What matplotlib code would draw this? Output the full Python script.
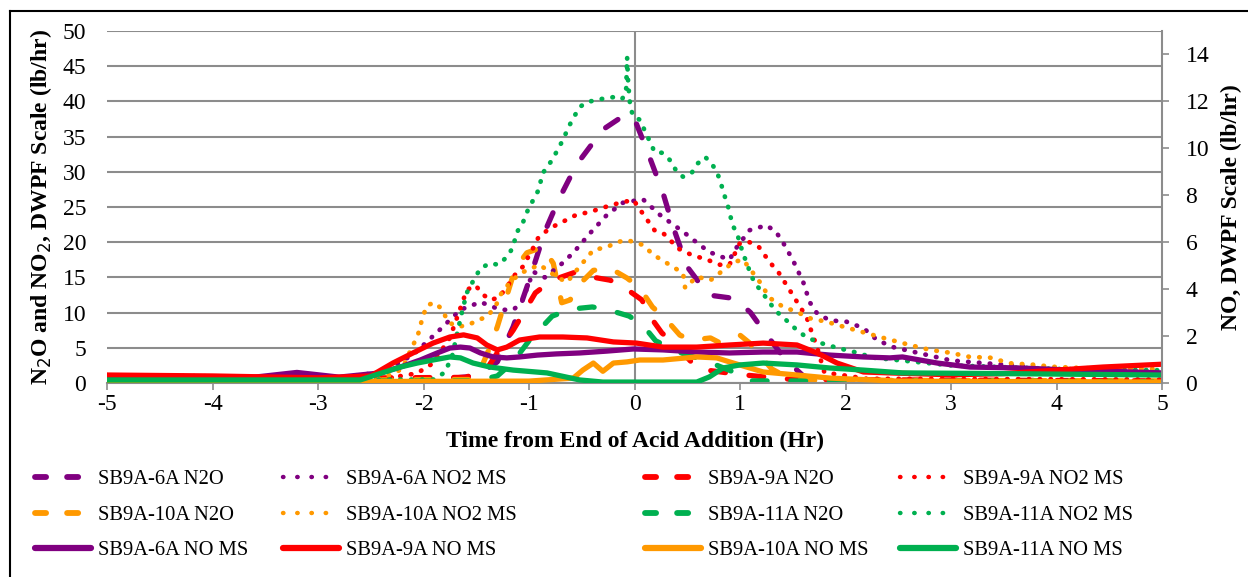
import matplotlib.pyplot as plt
from matplotlib.lines import Line2D

plt.rcParams['font.family'] = ['Liberation Serif', 'DejaVu Serif']
plt.rcParams['axes.unicode_minus'] = False

PURPLE = '#800080'
RED = '#FF0000'
ORANGE = '#FF9900'
GREEN = '#00B050'

# ---- N2O (left axis, lb/hr) ----
x_6a_n2o = [-5, -2, -1.5, -1.3, -1.15, -1.0, -0.85, -0.72, -0.55, -0.3, -0.1, 0.0, 0.12, 0.27,
            0.37, 0.5, 0.7, 0.95, 1.1, 1.22, 1.42, 1.6, 1.8, 5]
y_6a_n2o = [0.3, 0.3, 1.0, 3.0, 8.0, 14.5, 21.5, 26.0, 31.0, 36.0, 38.0, 37.5, 33.0, 27.0,
            22.0, 16.5, 12.5, 12.0, 10.0, 7.5, 3.5, 1.0, 0.3, 0.2]

x_9a_n2o = [-5, -1.6, -1.4, -1.3, -1.15, -1.05, -0.94, -0.78, -0.55, -0.42, -0.23, -0.09,
            0.07, 0.15, 0.26, 0.37, 0.6, 1.0, 1.5, 5]
y_9a_n2o = [0.5, 0.8, 2.0, 4.3, 7.5, 10.0, 12.8, 14.6, 15.8, 15.1, 14.6, 13.5,
            11.8, 9.4, 7.1, 5.7, 2.0, 1.2, 0.5, 0.3]

x_10a_n2o = [-5, -1.5, -1.37, -1.3, -1.13, -1.02, -0.87, -0.77, -0.69, -0.61, -0.53, -0.39,
             -0.23, -0.07, 0.05, 0.17, 0.29, 0.43, 0.54, 0.72, 0.81, 1.0, 1.09, 1.3, 1.5, 5]
y_10a_n2o = [0.3, 0.5, 5.1, 8.0, 16.3, 18.5, 19.3, 17.0, 11.4, 11.8, 13.9, 16.0,
             16.3, 14.9, 13.5, 10.8, 9.2, 6.8, 6.1, 6.4, 5.7, 6.8, 5.7, 2.0, 0.4, 0.3]

x_11a_n2o = [-5, -1.5, -1.3, -1.15, -1.0, -0.78, -0.6, -0.4, -0.25, -0.05, 0.08, 0.2,
             0.4, 0.7, 0.95, 1.1, 5]
y_11a_n2o = [0.2, 0.3, 1.0, 3.0, 6.0, 9.5, 10.5, 10.8, 10.4, 9.5, 8.2, 6.0,
             4.5, 3.0, 1.5, 0.3, 0.2]

# ---- NO2 MS (left axis, lb/hr) ----
x_6a_no2 = [-5, -3.5, -3.2, -2.8, -2.4, -2.1, -1.85, -1.65, -1.46, -1.27, -1.15, -1.07, -0.96,
            -0.85, -0.7, -0.58, -0.42, -0.26, -0.11, 0.08, 0.24, 0.33, 0.46, 0.62, 0.71, 0.83,
            0.9, 0.97, 1.09, 1.25, 1.34, 1.41, 1.5, 1.6, 1.66, 1.73, 1.85, 2.01, 2.17, 2.3,
            2.45, 3.0, 4.0, 5]
y_6a_no2 = [0.6, 0.8, 1.2, 0.8, 1.5, 4.0, 7.5, 10.4, 11.5, 10.4, 10.4, 11.4, 15.8,
            15.0, 16.8, 18.5, 21.3, 23.9, 25.6, 26.1, 23.9, 22.9, 21.5, 19.6, 18.6, 17.9,
            17.5, 19.3, 21.7, 22.4, 21.5, 19.9, 17.5, 14.3, 11.5, 9.9, 8.9, 8.7, 7.8, 6.1,
            5.1, 3.2, 2.0, 1.5]

x_9a_no2 = [-5, -3.0, -2.4, -2.2, -2.06, -1.91, -1.75, -1.59, -1.51, -1.43, -1.37, -1.29,
            -1.21, -1.15, -1.06, -0.97, -0.91, -0.8, -0.68, -0.55, -0.42, -0.3, -0.14, -0.01,
            0.1, 0.19, 0.27, 0.34, 0.4, 0.54, 0.69, 0.81, 0.9, 1.0, 1.09, 1.18, 1.28, 1.37,
            1.5, 1.57, 1.63, 1.68, 1.73, 1.8, 2.2, 5]
y_9a_no2 = [1.1, 0.8, 0.8, 1.0, 1.4, 2.8, 6.4, 13.2, 13.9, 12.5, 11.8, 12.1,
            13.6, 15.1, 16.5, 18.9, 20.7, 22.0, 22.9, 23.9, 24.3, 24.9, 25.6, 26.0,
            23.6, 21.7, 21.3, 20.3, 19.2, 18.2, 17.5, 16.8, 16.8, 19.9, 20.0, 19.3, 17.2, 15.6,
            12.5, 10.8, 9.4, 7.2, 5.1, 1.5, 0.6, 0.5]

x_10a_no2 = [-5, -2.4, -2.2, -2.11, -2.06, -2.03, -2.01, -1.96, -1.89, -1.82, -1.77, -1.68,
             -1.58, -1.49, -1.4, -1.32, -1.26, -1.18, -1.08, -0.9, -0.74, -0.64, -0.55, -0.45,
             -0.39, -0.26, -0.17, -0.07, 0.02, 0.08, 0.18, 0.31, 0.46, 0.48, 0.59, 0.72, 0.84,
             0.94, 1.03, 1.19, 1.28, 1.41, 1.54, 1.66, 1.82, 1.98, 2.17, 2.36, 2.61, 2.8,
             2.99, 3.18, 3.37, 3.56, 3.78, 3.97, 4.29, 5]
y_10a_no2 = [0.5, 0.6, 2.0, 5.1, 6.5, 8.0, 9.4, 11.1, 11.4, 10.4, 8.7, 8.0,
             8.2, 8.9, 9.4, 10.8, 12.8, 14.3, 15.6, 16.8, 15.1, 14.3, 16.0, 17.8,
             18.9, 19.3, 20.0, 20.3, 19.9, 19.6, 18.2, 17.0, 15.6, 13.5, 15.1, 14.6, 16.0,
             17.2, 17.5, 14.3, 12.1, 10.8, 10.1, 9.2, 8.7, 8.0, 7.2, 6.4, 5.4, 4.7,
             4.3, 3.7, 3.6, 2.8, 2.6, 2.3, 2.1, 2.0]

x_11a_no2 = [-5, -1.9, -1.8, -1.73, -1.68, -1.63, -1.59, -1.54, -1.46, -1.37, -1.29, -1.21,
             -1.15, -1.12, -1.06, -1.01, -0.96, -0.91, -0.87, -0.78, -0.69, -0.6, -0.52,
             -0.45, -0.36, -0.26, -0.2, -0.12, -0.08, -0.07, -0.06, -0.04, -0.01, 0.05, 0.08,
             0.13, 0.17, 0.19, 0.26, 0.31, 0.35, 0.4, 0.46, 0.54, 0.6, 0.67, 0.73, 0.78, 0.81,
             0.86, 0.89, 0.93, 0.97, 1.0, 1.03, 1.07, 1.09, 1.14, 1.21, 1.28, 1.35, 1.44,
             1.54, 1.63, 1.76, 1.92, 2.11, 2.26, 3.0, 4.0, 5]
y_11a_no2 = [0.4, 0.5, 1.5, 3.7, 7.1, 10.4, 12.8, 14.2, 16.3, 17.0, 16.8, 17.9,
             19.3, 21.3, 22.7, 24.6, 26.0, 27.4, 29.8, 31.7, 34.2, 37.1, 39.2,
             39.9, 40.2, 40.5, 40.6, 40.3, 41.2, 46.3, 42.6, 39.2, 37.8, 37.4, 36.4,
             34.8, 33.5, 32.8, 32.7, 32.1, 31.4, 30.0, 29.3, 29.8, 31.2, 32.1, 31.2, 30.0, 28.8,
             26.3, 24.9, 22.4, 21.3, 19.9, 18.2, 17.0, 15.8, 14.2, 12.9, 11.4, 10.1, 8.9,
             7.5, 6.5, 5.7, 5.0, 4.3, 3.6, 2.5, 2.0, 1.8]

# ---- NO MS (right axis, lb/hr) ----
x_6a_no = [-5, -3.6, -3.2, -2.8, -2.41, -2.22, -2.03, -1.87, -1.75, -1.65, -1.56, -1.46,
           -1.34, -1.21, -1.09, -0.92, -0.74, -0.52, -0.26, -0.01, 0.27, 0.59, 0.9, 1.22,
           1.54, 1.85, 2.17, 2.42, 2.54, 2.87, 3.18, 3.65, 4.13, 5]
y_6a_no = [0.2, 0.25, 0.45, 0.25, 0.43, 0.68, 0.98, 1.28, 1.49, 1.53, 1.49, 1.28,
           1.11, 1.07, 1.11, 1.19, 1.24, 1.28, 1.36, 1.45, 1.41, 1.32, 1.28, 1.32,
           1.32, 1.19, 1.11, 1.07, 1.11, 0.85, 0.68, 0.64, 0.55, 0.43]

x_9a_no = [-5, -4.0, -3.0, -2.5, -2.29, -2.1, -1.91, -1.75, -1.62, -1.49, -1.4, -1.3,
           -1.21, -1.09, -0.9, -0.68, -0.45, -0.2, 0.02, 0.27, 0.59, 0.9, 1.22, 1.54,
           1.73, 1.92, 2.17, 2.42, 3.0, 3.5, 4.44, 5]
y_9a_no = [0.34, 0.3, 0.22, 0.3, 0.85, 1.28, 1.7, 1.96, 2.05, 1.92, 1.62, 1.41,
           1.53, 1.83, 1.96, 1.96, 1.92, 1.75, 1.7, 1.53, 1.53, 1.62, 1.7, 1.62,
           1.28, 0.85, 0.47, 0.43, 0.35, 0.4, 0.68, 0.8]

x_10a_no = [-5, -1.0, -0.58, -0.49, -0.39, -0.3, -0.2, -0.07, 0.05, 0.27, 0.59, 0.78,
            0.9, 1.22, 1.54, 1.85, 2.5, 5]
y_10a_no = [0.04, 0.08, 0.21, 0.55, 0.85, 0.5, 0.85, 0.9, 0.98, 0.98, 1.11, 1.07,
            0.9, 0.47, 0.34, 0.21, 0.08, 0.04]

x_11a_no = [-5, -2.6, -2.22, -2.06, -1.91, -1.75, -1.65, -1.53, -1.37, -1.15, -0.83, -0.52,
            -0.3, 0.59, 0.71, 0.84, 1.0, 1.22, 1.54, 1.85, 2.17, 2.54, 3.5, 5]
y_11a_no = [0.13, 0.13, 0.68, 0.85, 0.98, 1.11, 1.07, 0.85, 0.68, 0.55, 0.43, 0.13,
            0.04, 0.04, 0.26, 0.64, 0.77, 0.85, 0.77, 0.64, 0.55, 0.43, 0.4, 0.34]

n2o = [(x_6a_n2o, y_6a_n2o, PURPLE),
       (x_9a_n2o, y_9a_n2o, RED),
       (x_10a_n2o, y_10a_n2o, ORANGE),
       (x_11a_n2o, y_11a_n2o, GREEN)]
no2 = [(x_6a_no2, y_6a_no2, PURPLE),
       (x_9a_no2, y_9a_no2, RED),
       (x_10a_no2, y_10a_no2, ORANGE),
       (x_11a_no2, y_11a_no2, GREEN)]
no = [(x_6a_no, y_6a_no, PURPLE),
      (x_9a_no, y_9a_no, RED),
      (x_10a_no, y_10a_no, ORANGE),
      (x_11a_no, y_11a_no, GREEN)]

DASH = (0, (2.8, 4.5))
DOT = (0, (0.1, 2.2))
GRID = '#8C8C8C'

fig = plt.figure(figsize=(12.48, 5.77), dpi=100)
ax = fig.add_axes([107 / 1248, 1 - 383 / 577, (1162 - 107) / 1248, (383 - 31) / 577])
ax2 = ax.twinx()

for xs, ys, c in n2o:
    ax.plot(xs, ys, color=c, lw=3.8, linestyle=DASH, dash_capstyle='round')
for xs, ys, c in no2:
    ax.plot(xs, ys, color=c, lw=3.4, linestyle=DOT, dash_capstyle='round')
for xs, ys, c in no:
    ax2.plot(xs, ys, color=c, lw=3.8, solid_capstyle='round')

ax.set_xlim(-5, 5)
ax.set_ylim(0, 50)
ax.set_yticks(range(0, 51, 5))
ax.set_xticks(range(-5, 6))
ax2.set_ylim(0, 15)
ax2.set_yticks(range(0, 15, 2))

ax.grid(axis='y', color=GRID, lw=1.5)
ax.set_axisbelow(True)
ax.axvline(0, color=GRID, lw=1.5, zorder=0.5)
for s in ['left', 'top', 'right']:
    ax.spines[s].set_visible(False)
ax.spines['bottom'].set_color(GRID)
ax.spines['bottom'].set_linewidth(1.5)
for s in ['left', 'top', 'bottom']:
    ax2.spines[s].set_visible(False)
ax2.spines['right'].set_color(GRID)
ax2.spines['right'].set_linewidth(1.5)

ax.tick_params(axis='x', direction='out', length=5, width=1.2, color=GRID, labelsize=17, pad=3)
ax.tick_params(axis='y', length=0, labelsize=17, pad=15)
ax2.tick_params(axis='y', direction='out', length=5, width=1.2, color=GRID, labelsize=17, pad=12)

ax.set_xlabel('Time from End of Acid Addition (Hr)', fontsize=17, fontweight='bold', labelpad=11)
ax.set_ylabel(r'N$_2$O and NO$_2$, DWPF Scale (lb/hr)', fontsize=17, fontweight='bold')
ax2.set_ylabel('NO, DWPF Scale (lb/hr)', fontsize=17, fontweight='bold')
ax.yaxis.set_label_coords(-0.05, 0.5)
ax2.yaxis.set_label_coords(1.056, 0.5)

# legend: 4 columns x 3 rows, placed column by column
columns = [[(PURPLE, 'dash', 'SB9A-6A N2O'), (ORANGE, 'dash', 'SB9A-10A N2O'),
            (PURPLE, 'solid', 'SB9A-6A NO MS')],
           [(PURPLE, 'dot', 'SB9A-6A NO2 MS'), (ORANGE, 'dot', 'SB9A-10A NO2 MS'),
            (RED, 'solid', 'SB9A-9A NO MS')],
           [(RED, 'dash', 'SB9A-9A N2O'), (GREEN, 'dash', 'SB9A-11A N2O'),
            (ORANGE, 'solid', 'SB9A-10A NO MS')],
           [(RED, 'dot', 'SB9A-9A NO2 MS'), (GREEN, 'dot', 'SB9A-11A NO2 MS'),
            (GREEN, 'solid', 'SB9A-11A NO MS')]]
col_x = [35, 283, 645, 900]
for cx, entries in zip(col_x, columns):
    hs = []
    labs = []
    for c, kind, lab in entries:
        if kind == 'dash':
            hh = Line2D([], [], color=c, lw=4.2, linestyle=(0, (1.9, 3.6)), dash_capstyle='round')
        elif kind == 'dot':
            hh = Line2D([], [], color=c, lw=3.2, linestyle=(0, (0.1, 3.1)), dash_capstyle='round')
        else:
            hh = Line2D([], [], color=c, lw=4.5, solid_capstyle='round')
        hs.append(hh)
        labs.append(lab)
    fig.legend(hs, labs, loc='upper left', bbox_to_anchor=(cx / 1248, 1 - 470 / 577),
               frameon=False, fontsize=14.8, handlelength=2.7, handletextpad=0.35,
               labelspacing=0.78, borderpad=0, borderaxespad=0)

# frame edges of the original chart area
fig.add_artist(Line2D([10 / 1248, 10 / 1248], [0, 1 - 11 / 577], color='black', lw=1.5))
fig.add_artist(Line2D([10 / 1248, 1], [1 - 11 / 577, 1 - 11 / 577], color='black', lw=1.5))

fig.savefig('out.png', dpi=100)
